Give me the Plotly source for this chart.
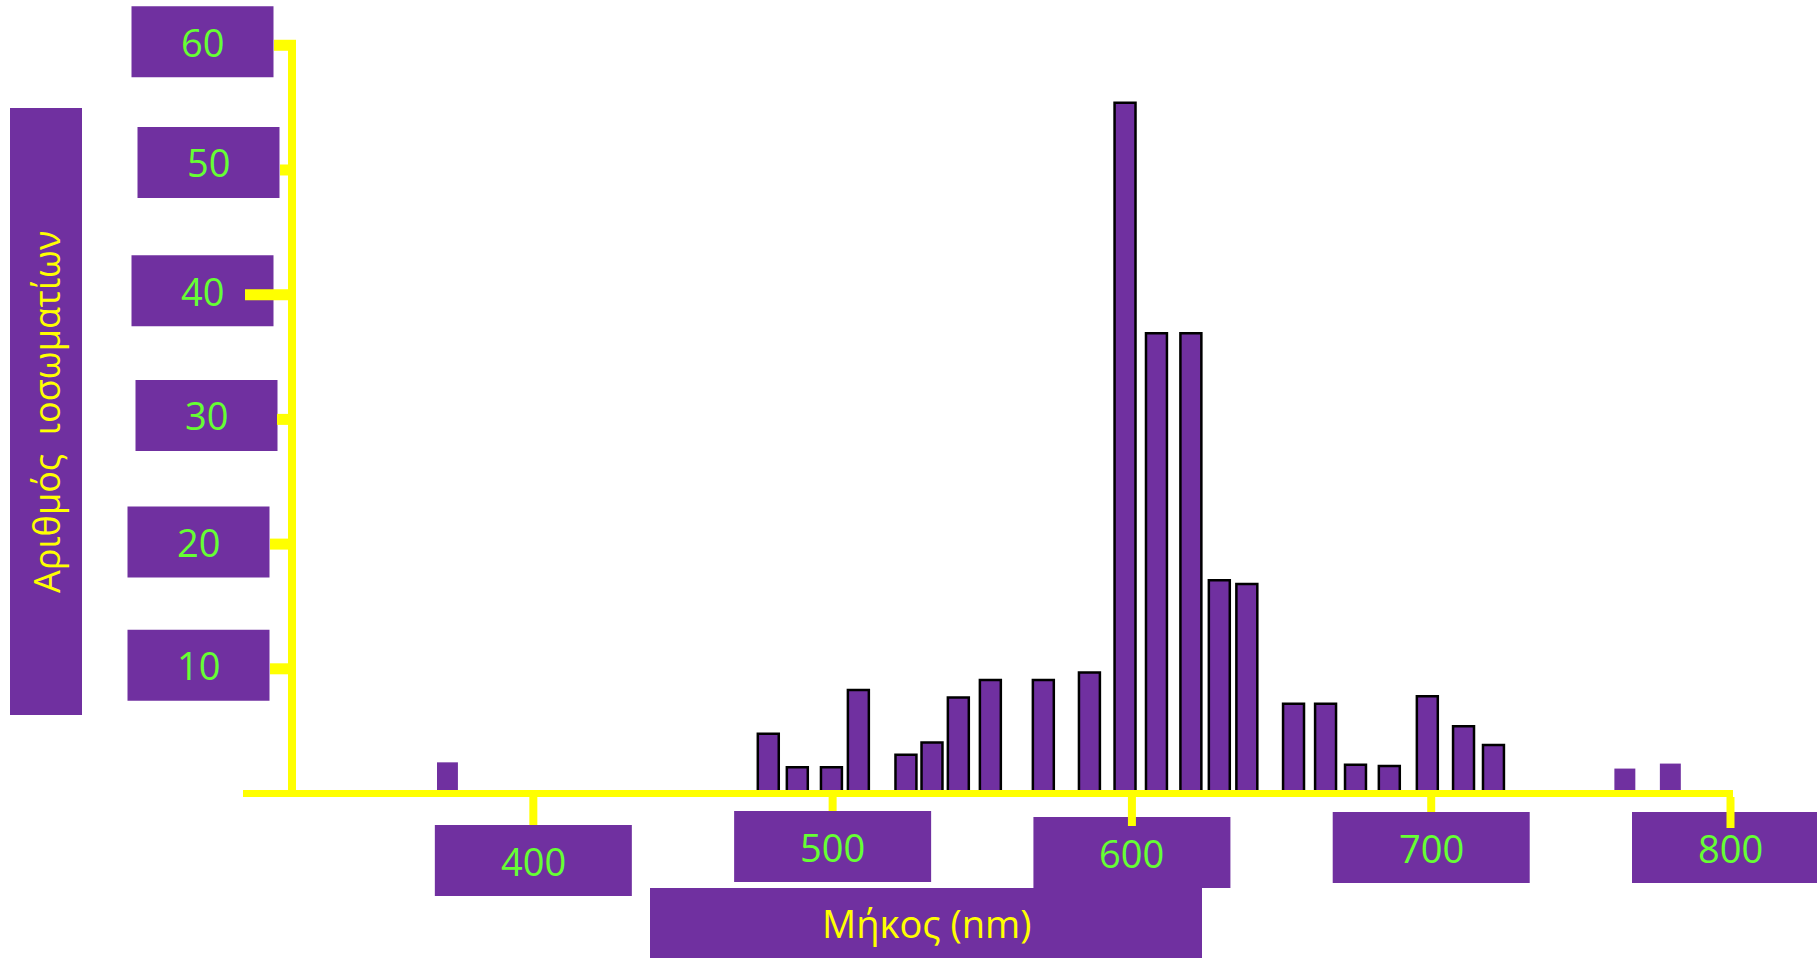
import plotly.graph_objects as go

# ---------------- data ----------------
wavelength_nm = [478.5, 488.2, 499.6, 508.6, 524.5, 533.2, 542.0, 552.7, 570.4, 585.8,
                 597.7, 608.2, 619.7, 629.2, 638.4, 654.0, 664.7, 674.7, 686.0, 698.7,
                 710.8, 720.8]
counts = [4.8, 2.1, 2.1, 8.3, 3.1, 4.1, 7.7, 9.1, 9.1, 9.7,
          55.4, 36.9, 36.9, 17.1, 16.8, 7.2, 7.2, 2.3, 2.2, 7.8,
          5.4, 3.9]
# small markers without outline
extra_nm = [371.3, 764.7, 779.9]
extra_counts = [2.5, 2.0, 2.4]

x_ticks = [400, 500, 600, 700, 800]
y_ticks = [10, 20, 30, 40, 50, 60]
x_title = "Μήκος (nm)"
y_title = "Αριθμός  ιοσωματίων"

# ---------------- style / layout ----------------
W, H = 1817, 958
X_RANGE = [221.8, 828.9]
Y_RANGE = [-13.19, 63.63]
PURPLE = "#7030A0"
YELLOW = "#FFFF00"
GREEN = "#66FF33"
FONT = "Open Sans, Noto Sans, DejaVu Sans, sans-serif"

PX_X = W / (X_RANGE[1] - X_RANGE[0])   # pixels per nm
PX_Y = H / (Y_RANGE[1] - Y_RANGE[0])   # pixels per count


def px(p):
    return p / W


def py(p):
    return 1 - p / H


def xdata_from_px(p):
    return X_RANGE[0] + p / PX_X


fig = go.Figure()
fig.add_trace(go.Bar(
    x=wavelength_nm, y=counts, width=7,
    marker=dict(color=PURPLE, line=dict(color="black", width=2.5)),
    hoverinfo="x+y", showlegend=False))
fig.add_trace(go.Bar(
    x=extra_nm, y=extra_counts, width=7,
    marker=dict(color=PURPLE, line=dict(width=0)),
    hoverinfo="x+y", showlegend=False))

shapes = []
annotations = []


def rect(xref, x0, x1, yref, y0, y1):
    shapes.append(dict(type="rect", xref=xref, yref=yref, x0=x0, x1=x1, y0=y0, y1=y1,
                       fillcolor=PURPLE, line=dict(width=0), layer="above"))


def seg(xref, x0, x1, yref, y0, y1, w):
    shapes.append(dict(type="line", xref=xref, yref=yref, x0=x0, x1=x1, y0=y0, y1=y1,
                       line=dict(color=YELLOW, width=w), layer="above"))


# axis title boxes
rect("paper", px(10), px(82), "paper", py(715), py(108))
rect("paper", px(650), px(1202), "paper", py(958), py(888))

# y tick label boxes
y_box_cx = [198.5, 198.5, 206.5, 202.5, 208.5, 202.5]
y_box_shift = [3.5, 2, 4, 4, 7.5, 3.5]
y_stub_x0 = [270, 270, 277, 245, 280, 274]
for v, cx, sh in zip(y_ticks, y_box_cx, y_box_shift):
    c = v + sh / PX_Y
    rect("paper", px(cx - 71), px(cx + 71), "y", c - 35.5 / PX_Y, c + 35.5 / PX_Y)

# x tick label boxes
x_box_top = [825, 811, 817, 812, 812]
for t, top in zip(x_ticks, x_box_top):
    rect("x", t - 98.5 / PX_X, t + 98.5 / PX_X, "paper", py(top + 71), py(top))

# axis lines
AXIS_X = 292
seg("x", xdata_from_px(243), x_ticks[-1] + 2.5 / PX_X, "y", 0, 0, 7)
seg("paper", px(AXIS_X), px(AXIS_X), "y", 0, y_ticks[-1], 8)

# y stubs
for v, x0 in zip(y_ticks, y_stub_x0):
    seg("paper", px(x0), px(AXIS_X + 4), "y", v, v, 11)

# x stubs
x_stub_bottom = [825, 811, 826, 812, 828]
for t, b in zip(x_ticks, x_stub_bottom):
    seg("x", t, t, "paper", py(797), py(b), 8)

# tick label texts
for v, cx, sh in zip(y_ticks, y_box_cx, y_box_shift):
    annotations.append(dict(text=str(v), xref="paper", x=px(cx), yref="y", y=v + sh / PX_Y,
                            showarrow=False, xanchor="center", yanchor="middle",
                            font=dict(family=FONT, size=38, color=GREEN)))
for t, top in zip(x_ticks, x_box_top):
    annotations.append(dict(text=str(t), xref="x", x=t, yref="paper", y=py(top + 35.5),
                            showarrow=False, xanchor="center", yanchor="middle",
                            font=dict(family=FONT, size=38, color=GREEN)))

# axis titles
annotations.append(dict(text=x_title, xref="paper", x=px(926), yref="paper", y=py(923),
                        showarrow=False, xanchor="center", yanchor="middle",
                        font=dict(family=FONT, size=38, color=YELLOW)))
annotations.append(dict(text=y_title, xref="paper", x=px(46), yref="paper", y=py(412),
                        showarrow=False, xanchor="center", yanchor="middle", textangle=-90,
                        font=dict(family=FONT, size=36, color=YELLOW)))

fig.update_layout(
    width=W, height=H,
    margin=dict(l=0, r=0, t=0, b=0),
    paper_bgcolor="white", plot_bgcolor="white",
    barmode="overlay",
    showlegend=False,
    xaxis=dict(range=X_RANGE, domain=[0, 1], visible=False, fixedrange=True),
    yaxis=dict(range=Y_RANGE, domain=[0, 1], visible=False, fixedrange=True),
    shapes=shapes,
    annotations=annotations,
    font=dict(family=FONT),
)

fig.write_html(
    "out.html",
    config={"displayModeBar": False},
    post_script="document.body.style.margin='0';document.body.style.overflow='hidden';",
)
